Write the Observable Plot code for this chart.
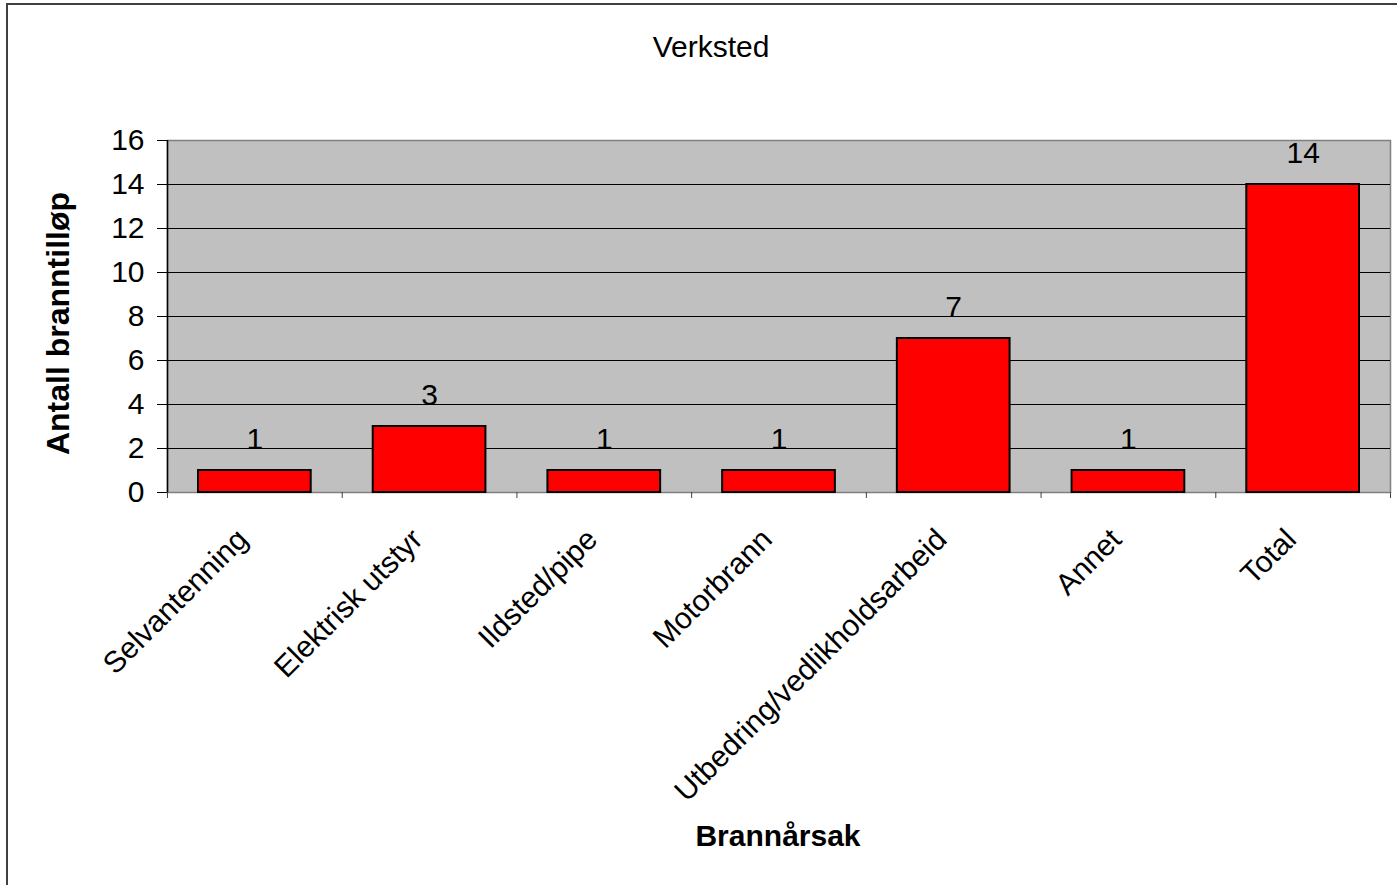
<!DOCTYPE html>
<html>
<head>
<meta charset="utf-8">
<script src="https://cdn.jsdelivr.net/npm/d3@7"></script>
<script src="https://cdn.jsdelivr.net/npm/@observablehq/plot@0.6"></script>
<style>
  html, body { margin: 0; padding: 0; background: #fff; }
  #wrap { position: relative; width: 1397px; height: 885px; overflow: hidden; }
  #border { position: absolute; left: 6px; top: 3px; width: 1500px; height: 1000px;
            border-top: 2px solid #404040; border-left: 2px solid #404040; pointer-events: none; }
  svg { display: block; }
</style>
</head>
<body>
<div id="wrap"><div id="border"></div></div>
<script>
const categories = ["Selvantenning", "Elektrisk utstyr", "Ildsted/pipe", "Motorbrann", "Utbedring/vedlikholdsarbeid", "Annet", "Total"];
const values = [1, 3, 1, 1, 7, 1, 14];
const yTicks = [0, 2, 4, 6, 8, 10, 12, 14, 16];
const title = "Verksted";
const xLabel = "Brannårsak";
const yLabel = "Antall branntilløp";

const data = categories.map((c, i) => ({cat: c, value: values[i]}));

const W = 1397, H = 885, ML = 167, MR = 7, MT = 140, MB = 393;
const bw = (W - ML - MR) / categories.length;
const font = "'Liberation Sans', Arial, sans-serif";

const chart = Plot.plot({
  width: W, height: H,
  marginLeft: ML, marginRight: MR, marginTop: MT, marginBottom: MB,
  style: {fontFamily: font, fontSize: "30px", color: "#000", background: "transparent", overflow: "visible"},
  x: {domain: categories, padding: 0, round: false, label: null},
  y: {domain: [0, 16], label: null},
  marks: [
    Plot.frame({fill: "#C0C0C0", stroke: "#808080", strokeWidth: 1.5}),
    Plot.ruleY(yTicks.slice(1, -1), {stroke: "#000", strokeWidth: 1}),
    Plot.ruleX([categories[0]], {y1: 0, y2: 16, dx: -bw / 2, stroke: "#000", strokeWidth: 1.5}),
    Plot.barY(data, {x: "cat", y: "value", fill: "#FF0000", stroke: "#000", strokeWidth: 2, insetLeft: 31, insetRight: 31}),
    Plot.text(data, {x: "cat", y: "value", text: d => String(d.value), lineAnchor: "bottom", dy: -22, fontSize: 30, fill: "#000"}),
    Plot.axisY({ticks: yTicks, tickSize: 10, tickPadding: 13, fontSize: 30, stroke: "#000", fill: "#000"}),
    Plot.axisX({ticks: categories, tickSize: 6, tickFormat: () => "", dx: -bw / 2, stroke: "#404040"}),
    Plot.axisX({ticks: [categories[categories.length - 1]], tickSize: 6, tickFormat: () => "", dx: bw / 2, stroke: "#404040"}),
    Plot.axisX({tickRotate: -45, tickSize: 0, tickPadding: 42, dx: -12, fontSize: 30, fill: "#000"}),
    Plot.text([title], {frameAnchor: "top", dx: -68, dy: -84, lineAnchor: "bottom", fontSize: 30, fill: "#000"}),
    Plot.text([xLabel], {frameAnchor: "bottom", dx: -1, dy: 353, lineAnchor: "bottom", fontSize: 30, fontWeight: "bold", fill: "#000"}),
    Plot.text([yLabel], {frameAnchor: "left", textAnchor: "middle", rotate: -90, dx: -99, dy: 7, lineAnchor: "bottom", fontSize: 32, fontWeight: "bold", fill: "#000"})
  ]
});

document.getElementById("wrap").insertBefore(chart, document.getElementById("border"));
</script>
</body>
</html>
